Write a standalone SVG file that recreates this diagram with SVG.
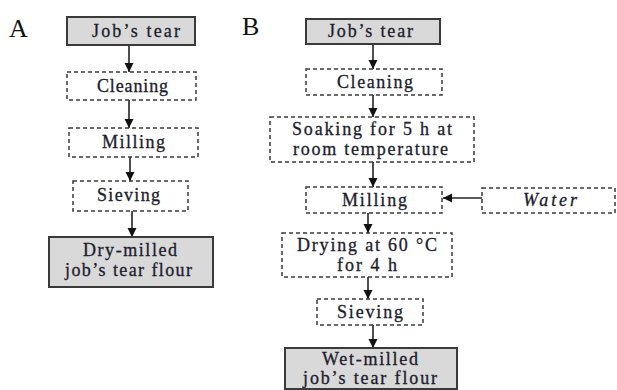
<svg xmlns="http://www.w3.org/2000/svg" width="617" height="390" viewBox="0 0 617 390">
<defs>
<style>
.solid{fill:#d9d9d9;stroke:#3a3a3a;stroke-width:2}
.dash{fill:#fff;stroke:#3a3a3a;stroke-width:1.5;stroke-dasharray:4 3}
text{font-family:"Liberation Serif","Times New Roman",serif;font-size:18px;fill:#1c1c2c;stroke:#1c1c2c;stroke-width:0.3;text-anchor:middle}
.lab{font-size:26px;fill:#111;stroke:none;text-anchor:start}
.it{font-style:italic}
.con line{stroke:#222;stroke-width:1.6;marker-end:url(#ah)}
</style>
<marker id="ah" markerUnits="userSpaceOnUse" markerWidth="10" markerHeight="10" refX="9" refY="4.5" orient="auto">
<path d="M0,0 L9,4.5 L0,9 z" fill="#111"/>
</marker>
</defs>
<rect width="617" height="390" fill="#fff"/>
<text class="lab" x="9" y="37">A</text>
<text class="lab" x="242" y="35">B</text>

<g class="con">
<line x1="129" y1="45" x2="129" y2="72"/>
<line x1="129" y1="100" x2="129" y2="128"/>
<line x1="130" y1="157" x2="130" y2="181"/>
<line x1="132" y1="211" x2="132" y2="237"/>
<line x1="373" y1="44" x2="373" y2="69"/>
<line x1="373" y1="95" x2="373" y2="117"/>
<line x1="373" y1="162" x2="373" y2="187"/>
<line x1="368" y1="213" x2="368" y2="233"/>
<line x1="368" y1="277" x2="368" y2="299"/>
<line x1="373" y1="325" x2="373" y2="348"/>
<line x1="482" y1="198" x2="443" y2="198"/>
</g>

<g id="a-jobs-tear"><rect class="solid" x="67" y="17" width="128" height="28"/><text x="136" y="37" textLength="88" lengthAdjust="spacing">Job’s tear</text></g>
<g id="a-cleaning"><rect class="dash" x="67" y="72" width="129" height="28"/><text x="132.5" y="92" textLength="71" lengthAdjust="spacing">Cleaning</text></g>
<g id="a-milling"><rect class="dash" x="69" y="128" width="129" height="29"/><text x="133.5" y="148" textLength="63" lengthAdjust="spacing">Milling</text></g>
<g id="a-sieving"><rect class="dash" x="73" y="181" width="115" height="30"/><text x="128.5" y="201" textLength="63" lengthAdjust="spacing">Sieving</text></g>
<g id="a-flour"><rect class="solid" x="49" y="237" width="164" height="50"/><text x="130" y="256" textLength="94" lengthAdjust="spacing">Dry-milled</text><text x="128.5" y="276" textLength="127" lengthAdjust="spacing">job’s tear flour</text></g>

<g id="b-jobs-tear"><rect class="solid" x="306" y="19" width="134" height="25"/><text x="370.5" y="37" textLength="85" lengthAdjust="spacing">Job’s tear</text></g>
<g id="b-cleaning"><rect class="dash" x="306" y="69" width="136" height="26"/><text x="375" y="88" textLength="76" lengthAdjust="spacing">Cleaning</text></g>
<g id="b-soaking"><rect class="dash" x="270" y="117" width="204" height="45"/><text x="372" y="135" textLength="160" lengthAdjust="spacing">Soaking for 5 h at</text><text x="370.5" y="155" textLength="155" lengthAdjust="spacing">room temperature</text></g>
<g id="b-milling"><rect class="dash" x="306" y="187" width="136" height="26"/><text x="374.5" y="206" textLength="65" lengthAdjust="spacing">Milling</text></g>
<g id="b-water"><rect class="dash" x="482" y="188" width="133" height="25"/><text class="it" x="550" y="206" textLength="54" lengthAdjust="spacing">Water</text></g>
<g id="b-drying"><rect class="dash" x="282" y="233" width="170" height="44"/><text x="367" y="251" textLength="140" lengthAdjust="spacing">Drying at 60 °C</text><text x="367" y="271" textLength="60" lengthAdjust="spacing">for 4 h</text></g>
<g id="b-sieving"><rect class="dash" x="317" y="299" width="106" height="26"/><text x="370" y="318" textLength="66" lengthAdjust="spacing">Sieving</text></g>
<g id="b-flour"><rect class="solid" x="285" y="348" width="172" height="41"/><text x="370" y="365" textLength="96" lengthAdjust="spacing">Wet-milled</text><text x="370" y="384" textLength="134" lengthAdjust="spacing">job’s tear flour</text></g>
</svg>
